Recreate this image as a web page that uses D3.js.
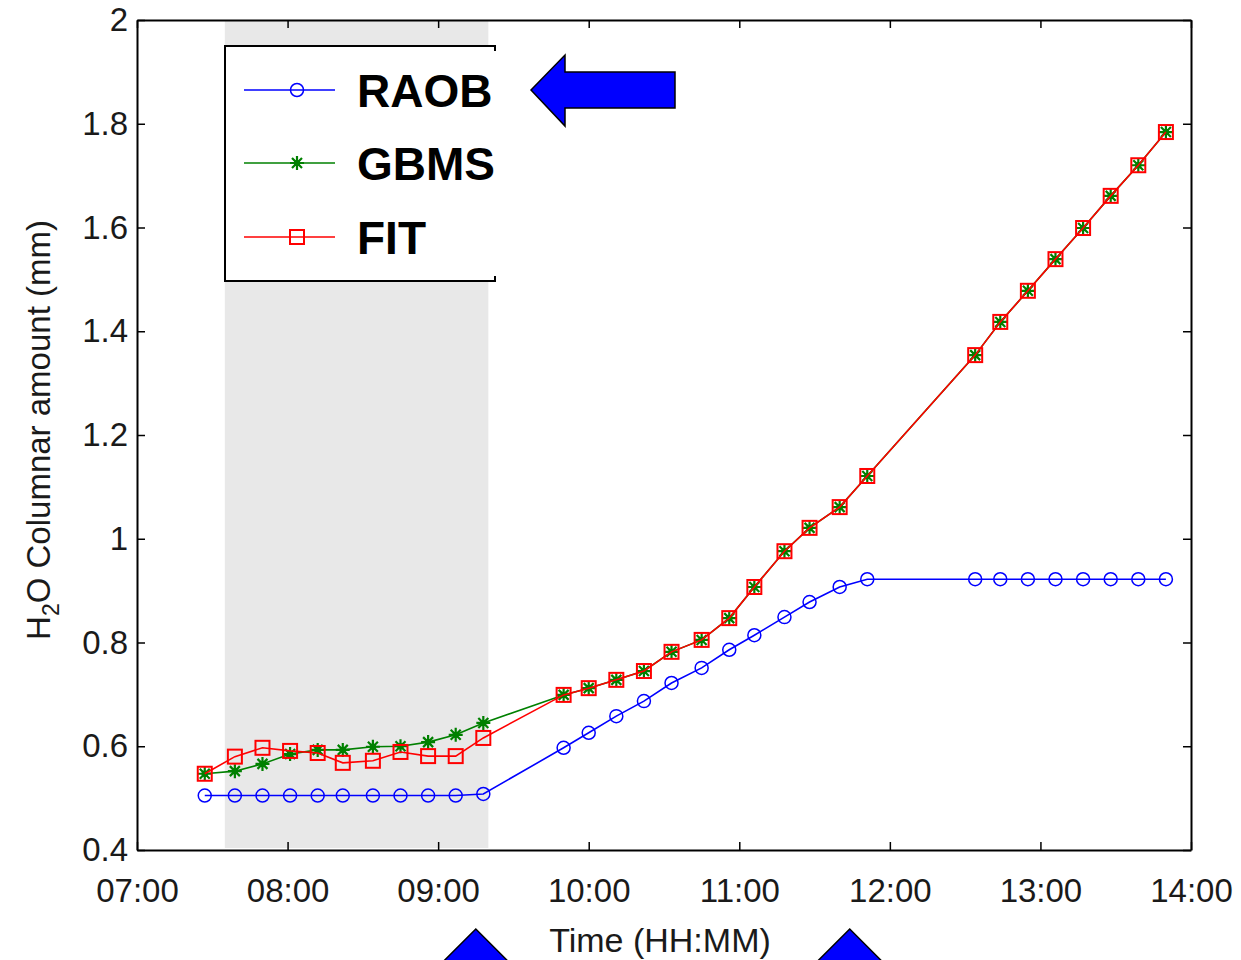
<!DOCTYPE html>
<html>
<head>
<meta charset="utf-8">
<script src="https://cdn.jsdelivr.net/npm/d3@7"></script>
<style>
  html, body { margin: 0; padding: 0; background: #fff; }
  svg { display: block; }
  .tick text { font-family: "Liberation Sans", Arial, sans-serif; fill: #1a1a1a; }
</style>
</head>
<body>
<svg id="chart" width="1241" height="960"></svg>
<script>
// Sample times (HH:MM) shared by all three series
const times = ["07:27","07:39","07:50","08:01","08:12","08:22","08:34","08:45","08:56","09:07","09:18",
               "09:50","10:00","10:11","10:22","10:33","10:45","10:56","11:06","11:18","11:28","11:40","11:51",
               "12:34","12:44","12:55","13:06","13:17","13:28","13:39","13:50"];

// H2O columnar amount (mm)
const raob = [0.505,0.505,0.505,0.505,0.505,0.505,0.505,0.505,0.505,0.505,0.508,
              0.597,0.626,0.658,0.687,0.722,0.751,0.786,0.814,0.849,0.878,0.907,0.922,
              0.922,0.922,0.922,0.922,0.922,0.922,0.922,0.922];
const gbms = [0.547,0.552,0.566,0.585,0.593,0.593,0.599,0.600,0.608,0.622,0.645,
              0.699,0.712,0.728,0.745,0.782,0.805,0.847,0.907,0.976,1.021,1.061,1.121,
              1.354,1.418,1.478,1.539,1.599,1.661,1.720,1.784];
const fit  = [0.547,0.580,0.597,0.591,0.587,0.568,0.572,0.589,0.581,0.581,0.616,
              0.699,0.712,0.728,0.745,0.782,0.805,0.847,0.907,0.976,1.021,1.061,1.121,
              1.354,1.418,1.478,1.539,1.599,1.661,1.720,1.784];

const seriesNames = ["RAOB", "GBMS", "FIT"];
const xDomain = ["07:00", "14:00"];
const yTicks = [0.4, 0.6, 0.8, 1, 1.2, 1.4, 1.6, 1.8, 2];
const shadeSpan = ["07:35", "09:20"];      // shaded period
const launchMarks = ["09:15", "11:44"];    // triangles under the time axis

const parse = s => { const [h, m] = s.split(":").map(Number); return new Date(2000, 0, 1, h, m); };

const svg = d3.select("#chart");
const plotL = 137, plotR = 1191, plotT = 20, plotB = 850;

const x = d3.scaleTime().domain(xDomain.map(parse)).range([plotL, plotR]);
const y = d3.scaleLinear().domain([0.4, 2]).range([plotB, plotT]);

// shaded interval
svg.append("rect")
  .attr("x", x(parse(shadeSpan[0])))
  .attr("y", plotT)
  .attr("width", x(parse(shadeSpan[1])) - x(parse(shadeSpan[0])))
  .attr("height", plotB - plotT - 2)
  .attr("fill", "#e8e8e8");

// axes (inward ticks on all four sides)
const fmt = d3.timeFormat("%H:%M");
const xAxis = svg.append("g").attr("transform", `translate(0,${plotB})`)
  .call(d3.axisBottom(x).ticks(d3.timeHour.every(1)).tickFormat(fmt).tickSizeInner(-8).tickSizeOuter(0).tickPadding(29));
const xTop = svg.append("g").attr("transform", `translate(0,${plotT})`)
  .call(d3.axisTop(x).ticks(d3.timeHour.every(1)).tickFormat("").tickSizeInner(-8).tickSizeOuter(0));
const yAxis = svg.append("g").attr("transform", `translate(${plotL},0)`)
  .call(d3.axisLeft(y).tickValues(yTicks).tickFormat(d3.format("")).tickSizeInner(-8).tickSizeOuter(0).tickPadding(9));
const yRight = svg.append("g").attr("transform", `translate(${plotR},0)`)
  .call(d3.axisRight(y).tickValues(yTicks).tickFormat("").tickSizeInner(-8).tickSizeOuter(0));

[xAxis, xTop, yAxis, yRight].forEach(g => {
  g.select(".domain").attr("stroke", "#000").attr("stroke-width", 2);
  g.selectAll(".tick line").attr("stroke", "#000").attr("stroke-width", 1.5);
  g.selectAll(".tick text").attr("font-size", 33);
});

// axis titles
svg.append("text")
  .attr("x", 660).attr("y", 952)
  .attr("text-anchor", "middle")
  .attr("font-family", "Liberation Sans, Arial, sans-serif")
  .attr("font-size", 34).attr("fill", "#1a1a1a")
  .text("Time (HH:MM)");

const yl = svg.append("text")
  .attr("transform", "translate(50,430) rotate(-90)")
  .attr("text-anchor", "middle")
  .attr("font-family", "Liberation Sans, Arial, sans-serif")
  .attr("font-size", 33).attr("fill", "#1a1a1a");
yl.append("tspan").text("H");
yl.append("tspan").attr("font-size", 23).attr("dy", 9).text("2");
yl.append("tspan").attr("dy", -9).text("O Columnar amount (mm)");

// series
const pts = vals => vals.map((v, i) => [x(parse(times[i])), y(v)]);
const line = d3.line();

const drawCircle = (g, p, col) => g.append("circle").attr("cx", p[0]).attr("cy", p[1]).attr("r", 6.5)
  .attr("fill", "none").attr("stroke", col).attr("stroke-width", 1.5);
const drawStar = (g, p, col) => {
  const a = 7, b = 5;
  g.append("path")
    .attr("d", `M${p[0]-a},${p[1]}H${p[0]+a}M${p[0]},${p[1]-a}V${p[1]+a}` +
               `M${p[0]-b},${p[1]-b}L${p[0]+b},${p[1]+b}M${p[0]-b},${p[1]+b}L${p[0]+b},${p[1]-b}`)
    .attr("stroke", col).attr("stroke-width", 2.2).attr("fill", "none");
  g.append("circle").attr("cx", p[0]).attr("cy", p[1]).attr("r", 3.2).attr("fill", col);
};
const drawSquare = (g, p, col) => g.append("rect").attr("x", p[0] - 7).attr("y", p[1] - 7)
  .attr("width", 14).attr("height", 14).attr("fill", "none").attr("stroke", col).attr("stroke-width", 2);

const series = [
  { name: seriesNames[0], vals: raob, col: "#0000ff", mark: drawCircle },
  { name: seriesNames[1], vals: gbms, col: "#008000", mark: drawStar },
  { name: seriesNames[2], vals: fit,  col: "#ff0000", mark: drawSquare }
];

series.forEach(s => {
  const g = svg.append("g");
  const p = pts(s.vals);
  g.append("path").attr("d", line(p)).attr("fill", "none").attr("stroke", s.col).attr("stroke-width", 1.6);
  p.forEach(q => s.mark(g, q, s.col));
});

// legend
const lg = svg.append("g");
lg.append("rect").attr("x", 225).attr("y", 46).attr("width", 270).attr("height", 235).attr("fill", "#fff");
lg.append("path").attr("d", "M495,51V46H225V281H495V276").attr("fill", "none").attr("stroke", "#000").attr("stroke-width", 2);
const rowY = [90, 163, 237];
series.forEach((s, i) => {
  const yy = rowY[i];
  lg.append("line").attr("x1", 244).attr("x2", 335).attr("y1", yy).attr("y2", yy)
    .attr("stroke", s.col).attr("stroke-width", 1.6);
  s.mark(lg, [297, yy], s.col);
  lg.append("text").attr("x", 357).attr("y", yy + 17)
    .attr("font-family", "Liberation Sans, Arial, sans-serif").attr("font-weight", "bold")
    .attr("font-size", 46).attr("fill", "#000").text(s.name);
});

// arrow pointing at the RAOB entry
const ay = rowY[0];
svg.append("path")
  .attr("d", `M531,${ay}L565,${ay-35}V${ay-18}H675V${ay+18}H565V${ay+36}Z`)
  .attr("fill", "#0000ff").attr("stroke", "#000").attr("stroke-width", 1.5).attr("stroke-linejoin", "miter");

// triangles below the time axis
launchMarks.forEach(t => {
  const cx = x(parse(t));
  svg.append("path")
    .attr("d", `M${cx},929L${cx+36},965H${cx-36}Z`)
    .attr("fill", "#0000ff").attr("stroke", "#000").attr("stroke-width", 1.5);
});
</script>
</body>
</html>
